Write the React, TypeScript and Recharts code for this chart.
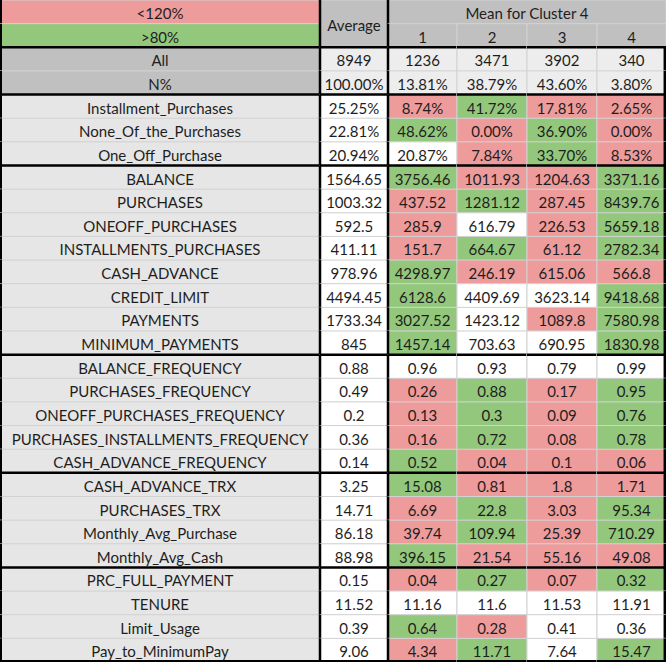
import React from 'react'
import { BarChart, Bar, XAxis, YAxis } from 'recharts'

// legend + header
const LEGEND = ['<120%', '>80%']
const AVG_TITLE = 'Average'
const CLUSTER_TITLE = 'Mean for Cluster 4'
const CLUSTERS = ['1', '2', '3', '4']

// counts
const COUNT_LABEL = 'All'
const COUNT_TOTAL = 8949
const COUNTS = [1236, 3471, 3902, 340]
const SHARE_LABEL = 'N%'
const SHARE_TOTAL = 100
const SHARES = [13.81, 38.79, 43.6, 3.8]

// features, grouped
const GROUP_SIZES = [3, 8, 5, 4, 4]
const PCT_ROWS = 3
const FEATURES = [
    'Installment_Purchases', 'None_Of_the_Purchases', 'One_Off_Purchase',
    'BALANCE', 'PURCHASES', 'ONEOFF_PURCHASES', 'INSTALLMENTS_PURCHASES', 'CASH_ADVANCE', 'CREDIT_LIMIT', 'PAYMENTS', 'MINIMUM_PAYMENTS',
    'BALANCE_FREQUENCY', 'PURCHASES_FREQUENCY', 'ONEOFF_PURCHASES_FREQUENCY', 'PURCHASES_INSTALLMENTS_FREQUENCY', 'CASH_ADVANCE_FREQUENCY',
    'CASH_ADVANCE_TRX', 'PURCHASES_TRX', 'Monthly_Avg_Purchase', 'Monthly_Avg_Cash',
    'PRC_FULL_PAYMENT', 'TENURE', 'Limit_Usage', 'Pay_to_MinimumPay',
]
const AVERAGES = [
    25.25, 22.81, 20.94,
    1564.65, 1003.32, 592.5, 411.11, 978.96, 4494.45, 1733.34, 845,
    0.88, 0.49, 0.2, 0.36, 0.14,
    3.25, 14.71, 86.18, 88.98,
    0.15, 11.52, 0.39, 9.06,
]
const CLUSTER_MEANS = [
    [8.74, 41.72, 17.81, 2.65],
    [48.62, 0, 36.9, 0],
    [20.87, 7.84, 33.7, 8.53],
    [3756.46, 1011.93, 1204.63, 3371.16],
    [437.52, 1281.12, 287.45, 8439.76],
    [285.9, 616.79, 226.53, 5659.18],
    [151.7, 664.67, 61.12, 2782.34],
    [4298.97, 246.19, 615.06, 566.8],
    [6128.6, 4409.69, 3623.14, 9418.68],
    [3027.52, 1423.12, 1089.8, 7580.98],
    [1457.14, 703.63, 690.95, 1830.98],
    [0.96, 0.93, 0.79, 0.99],
    [0.26, 0.88, 0.17, 0.95],
    [0.13, 0.3, 0.09, 0.76],
    [0.16, 0.72, 0.08, 0.78],
    [0.52, 0.04, 0.1, 0.06],
    [15.08, 0.81, 1.8, 1.71],
    [6.69, 22.8, 3.03, 95.34],
    [39.74, 109.94, 25.39, 710.29],
    [396.15, 21.54, 55.16, 49.08],
    [0.04, 0.27, 0.07, 0.32],
    [11.16, 11.6, 11.53, 11.91],
    [0.64, 0.28, 0.41, 0.36],
    [4.34, 11.71, 7.64, 15.47],
]

// layout
const W = 666
const H = 662
const COL_EDGES = [0, 320, 388, 457, 527, 597, 666]
const RED = '#EE9B9B'
const GREEN = '#93C87C'
const HEAD = '#C0C0C0'
const LIGHT = '#EDEDED'
const LABEL_BG = '#E6E6E6'
const GRID = '#D2D2D2'
const FONT = 'Lato, "Open Sans", sans-serif'

type CellSpec = { text: string, fill: string, rowSpan?: number, skip?: boolean }

const colW = (a: number, b: number) => COL_EDGES[b] - COL_EDGES[a]
const fmt = (v: number, pct: boolean) => pct ? v.toFixed(2) + '%' : String(v)
const shade = (v: number, avg: number) => v > avg * 1.2 ? GREEN : v < avg * 0.8 ? RED : '#FFFFFF'

function buildRows() {
    const rows: any[] = []
    const push = (widths: number[], cells: CellSpec[]) => {
        const r: any = { key: 'r' + rows.length, rowIndex: rows.length, cells }
        widths.forEach((w, i) => { r['w' + i] = w })
        rows.push(r)
    }
    const full = [0, 1, 2, 3, 4, 5].map(i => colW(i, i + 1))
    // header row 1: cluster title spans 4 columns
    push([colW(0, 1), colW(1, 2), colW(2, 6), 0, 0, 0], [
        { text: LEGEND[0], fill: RED },
        { text: AVG_TITLE, fill: HEAD, rowSpan: 2 },
        { text: CLUSTER_TITLE, fill: HEAD },
        { text: '', fill: HEAD, skip: true },
        { text: '', fill: HEAD, skip: true },
        { text: '', fill: HEAD, skip: true },
    ])
    push(full, [
        { text: LEGEND[1], fill: GREEN },
        { text: '', fill: HEAD, skip: true },
        ...CLUSTERS.map(c => ({ text: c, fill: HEAD })),
    ])
    push(full, [
        { text: COUNT_LABEL, fill: HEAD },
        { text: String(COUNT_TOTAL), fill: LIGHT },
        ...COUNTS.map(c => ({ text: String(c), fill: LIGHT })),
    ])
    push(full, [
        { text: SHARE_LABEL, fill: HEAD },
        { text: fmt(SHARE_TOTAL, true), fill: LIGHT },
        ...SHARES.map(c => ({ text: fmt(c, true), fill: LIGHT })),
    ])
    FEATURES.forEach((name, i) => {
        const pct = i < PCT_ROWS
        push(full, [
            { text: name, fill: LABEL_BG },
            { text: fmt(AVERAGES[i], pct), fill: '#FFFFFF' },
            ...CLUSTER_MEANS[i].map(v => ({ text: fmt(v, pct), fill: shade(v, AVERAGES[i]) })),
        ])
    })
    return rows
}

const ROWS = buildRows()
const GROUP_STARTS = (() => {
    const s = [2, 4]
    let r = 4
    GROUP_SIZES.slice(0, -1).forEach(g => { r += g; s.push(r) })
    return s
})()

const renderCell = (col: number) => (props: any) => {
    const { x, y, width, height, payload } = props
    if (!payload || !width || width <= 0) return <g />
    const cell: CellSpec = payload.cells[col]
    if (cell.skip) return <g />
    const h = height * (cell.rowSpan || 1)
    const ri = payload.rowIndex
    const last = ri === ROWS.length - 1
    return (
        <g>
            <rect x={x} y={y} width={width} height={h} fill={cell.fill} stroke={GRID} strokeWidth={1} />
            <text x={x + width / 2} y={y + h / 2 + 1} textAnchor="middle" dominantBaseline="central"
                fontFamily={FONT} fontSize={15} fill="#1e1e1e">{cell.text}</text>
            {GROUP_STARTS.includes(ri) && <line x1={x} x2={x + width} y1={y} y2={y} stroke="#000" strokeWidth={2.5} />}
            {last && <line x1={x} x2={x + width} y1={y + h - 1.2} y2={y + h - 1.2} stroke="#000" strokeWidth={2.5} />}
            {col === 0 && <line x1={x + 1} x2={x + 1} y1={y} y2={y + h} stroke="#000" strokeWidth={2} />}
            {(col === 1 || col === 2) && <line x1={x} x2={x} y1={y} y2={y + h} stroke="#000" strokeWidth={2.5} />}
            {col === 5 && ri >= 2 && <line x1={x + width - 1.2} x2={x + width - 1.2} y1={y} y2={y + h} stroke="#000" strokeWidth={2.5} />}
        </g>
    )
}

export default function App() {
    return (
        <div style={{ position: 'absolute', left: 0, top: 0, width: W, height: H, background: '#fff' }}>
            <BarChart width={W} height={H} data={ROWS} layout="vertical"
                margin={{ top: 0, right: 0, bottom: 0, left: 0 }} barCategoryGap={0} barGap={0}>
                <XAxis type="number" domain={[0, W]} allowDataOverflow hide />
                <YAxis type="category" dataKey="key" hide />
                {[0, 1, 2, 3, 4, 5].map(c => (
                    <Bar key={c} dataKey={'w' + c} stackId="t" isAnimationActive={false} shape={renderCell(c)} />
                ))}
            </BarChart>
        </div>
    )
}
